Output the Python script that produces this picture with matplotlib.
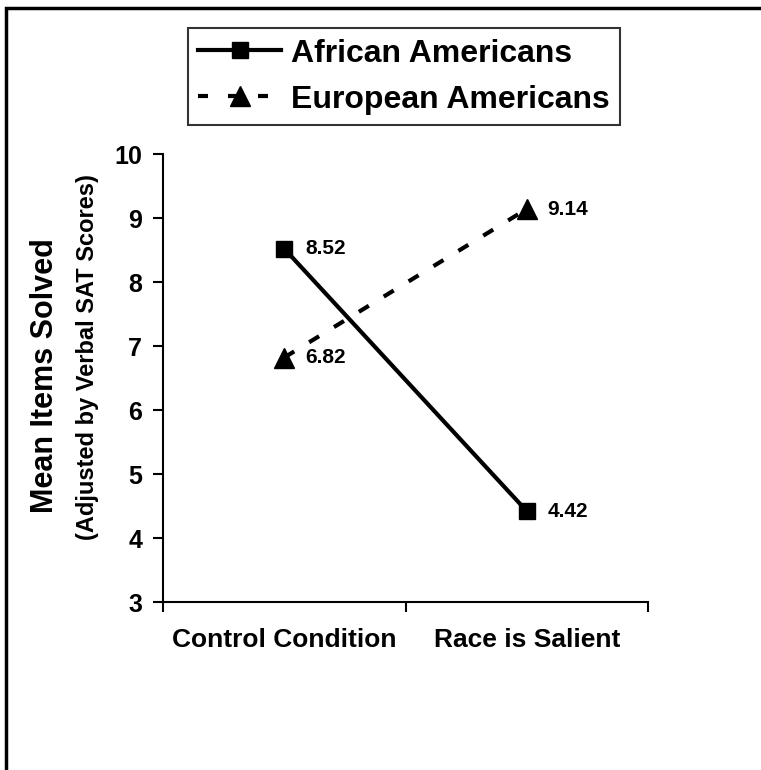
import matplotlib.pyplot as plt
from matplotlib.lines import Line2D
from matplotlib.patches import Rectangle

# data
conditions = ['Control Condition', 'Race is Salient']
african = [8.52, 4.42]
european = [6.82, 9.14]
y_ticks = [3, 4, 5, 6, 7, 8, 9, 10]

plt.rcParams['font.family'] = ['Liberation Sans', 'DejaVu Sans']
plt.rcParams['font.weight'] = 'bold'

fig = plt.figure(figsize=(7.61, 7.70), dpi=100)
W, H = 761, 770
ax = fig.add_axes([163 / W, 1 - 602 / H, (648 - 163) / W, (602 - 154) / H])

xpos = [0.5, 1.5]
ax.plot(xpos, african, color='black', linewidth=3, marker='s', markersize=12,
        solid_capstyle='butt')
ax.plot(xpos, european, color='black', linewidth=3, linestyle=(0, (2.8, 4.2)),
        marker='^', markersize=14, dash_capstyle='butt')

for x, v in zip(xpos, african):
    ax.annotate(f'{v:.2f}', (x, v), xytext=(15, 0), textcoords='offset points',
                va='center', ha='left', fontsize=15, fontweight='bold')
for x, v in zip(xpos, european):
    ax.annotate(f'{v:.2f}', (x, v), xytext=(15, 0), textcoords='offset points',
                va='center', ha='left', fontsize=15, fontweight='bold')

ax.set_xlim(0, 2)
ax.set_ylim(3, 10)
ax.set_yticks(y_ticks)
ax.set_xticks([0, 1, 2])
ax.set_xticklabels([])
ax.set_xticks(xpos, minor=True)
ax.set_xticklabels(conditions, minor=True, fontsize=19, fontweight='bold')
ax.tick_params(axis='x', which='minor', length=0, pad=19)
ax.tick_params(axis='both', which='major', direction='out', length=7, width=1.5)
ax.tick_params(axis='y', labelsize=18, pad=8)
for t in ax.get_yticklabels():
    t.set_fontweight('bold')

ax.spines['top'].set_visible(False)
ax.spines['right'].set_visible(False)
ax.spines['left'].set_linewidth(1.5)
ax.spines['bottom'].set_linewidth(1.5)

# y labels
fig.text(45 / W, 1 - 376 / H, 'Mean Items Solved', rotation=90, ha='center',
         va='center', fontsize=22, fontweight='bold')
fig.text(88 / W, 1 - 357 / H, '(Adjusted by Verbal SAT Scores)', rotation=90,
         ha='center', va='center', fontsize=17, fontweight='bold')

# legend
handles = [
    Line2D([], [], color='black', linewidth=3, marker='s', markersize=12),
    Line2D([], [], color='black', linewidth=3, linestyle=(0, (2.4, 4.8)),
           marker='^', markersize=14, dash_capstyle='butt'),
]
leg = fig.legend(handles, ['African Americans', 'European Americans'],
                 loc='upper center', bbox_to_anchor=(404 / W, 1 - 28 / H),
                 borderaxespad=0, fontsize=23, frameon=True, fancybox=False,
                 edgecolor='black', handlelength=2.6, handletextpad=0.3,
                 borderpad=0.33, labelspacing=0.5)
leg.get_frame().set_linewidth(1.5)
for t in leg.get_texts():
    t.set_fontweight('bold')

# outer frame (cut off at right/bottom)
fig.patches.append(Rectangle((6 / W, -0.1), 1.2, 1 - 8 / H + 0.1,
                             transform=fig.transFigure, fill=False,
                             edgecolor='black', linewidth=2.5))

fig.savefig('out.png', dpi=100)
